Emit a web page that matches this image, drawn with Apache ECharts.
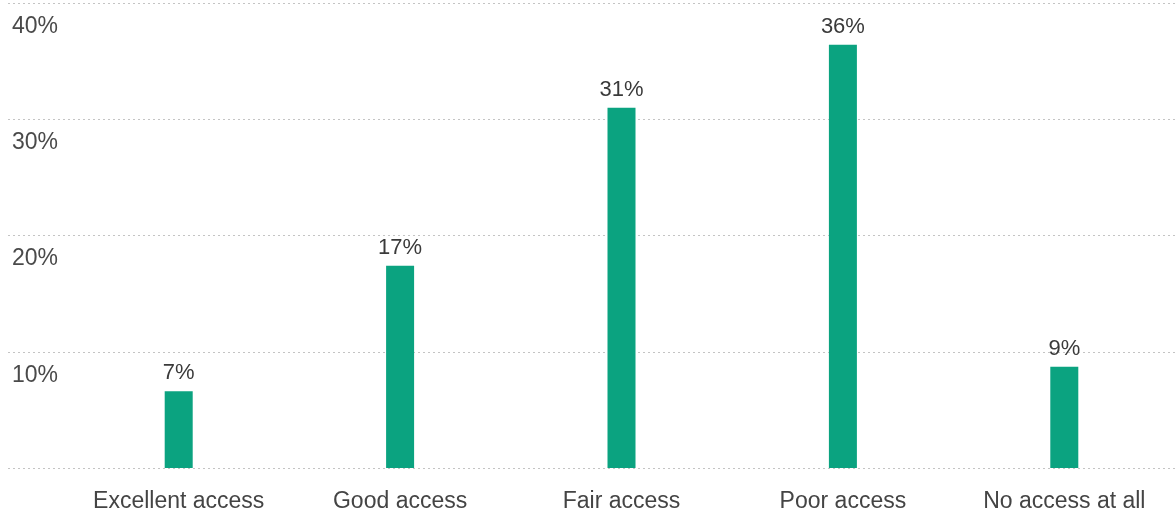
<!DOCTYPE html>
<html>
<head>
<meta charset="utf-8">
<script src="https://cdn.jsdelivr.net/npm/echarts@6/dist/echarts.min.js"></script>
<style>
html,body{margin:0;padding:0;background:#fff;}
#chart{width:1175px;height:519px;}
</style>
</head>
<body>
<div id="chart"></div>
<script>
const categories = ['Excellent access', 'Good access', 'Fair access', 'Poor access', 'No access at all'];
const values = [6.6, 17.4, 31.0, 36.4, 8.7];
const yTicks = [0, 10, 20, 30, 40];

const chart = echarts.init(document.getElementById('chart'));
const font = 'Liberation Sans, Arial, sans-serif';
chart.setOption({
  animation: false,
  grid: [
    { left: 68, right: 0, top: 3, bottom: 51 },
    { left: 8, right: 0, top: 3, bottom: 51 }
  ],
  xAxis: [
    {
      type: 'category', gridIndex: 0, data: categories,
      axisLine: { show: false }, axisTick: { show: false },
      axisLabel: { interval: 0, hideOverlap: false, color: '#444', fontSize: 23, fontFamily: font, margin: 22 }
    },
    { type: 'value', gridIndex: 1, show: false, min: 0, max: 1 }
  ],
  yAxis: [
    {
      type: 'value', gridIndex: 0, min: yTicks[0], max: yTicks[yTicks.length - 1], interval: 10,
      axisLabel: { show: false }, splitLine: { show: false },
      axisLine: { show: false }, axisTick: { show: false }
    },
    {
      type: 'value', gridIndex: 1, min: yTicks[0], max: yTicks[yTicks.length - 1], interval: 10,
      axisLine: { show: false }, axisTick: { show: false },
      splitLine: { show: true, lineStyle: { color: '#c4c4c4', type: [2, 3], width: 1 } },
      axisLabel: {
        inside: true, margin: 4, color: '#4a4a4a', fontSize: 23, fontFamily: font,
        verticalAlign: 'top', padding: [12, 0, 0, 0],
        formatter: v => v === 0 ? '' : v + '%'
      }
    }
  ],
  series: [{
    type: 'bar', xAxisIndex: 0, yAxisIndex: 0, data: values,
    barWidth: 28,
    itemStyle: { color: '#0ba380' },
    label: {
      show: true, position: 'top', distance: 7, color: '#3a3a3a', fontSize: 22, fontFamily: font,
      formatter: p => Math.round(p.value) + '%'
    }
  }]
});
</script>
</body>
</html>
